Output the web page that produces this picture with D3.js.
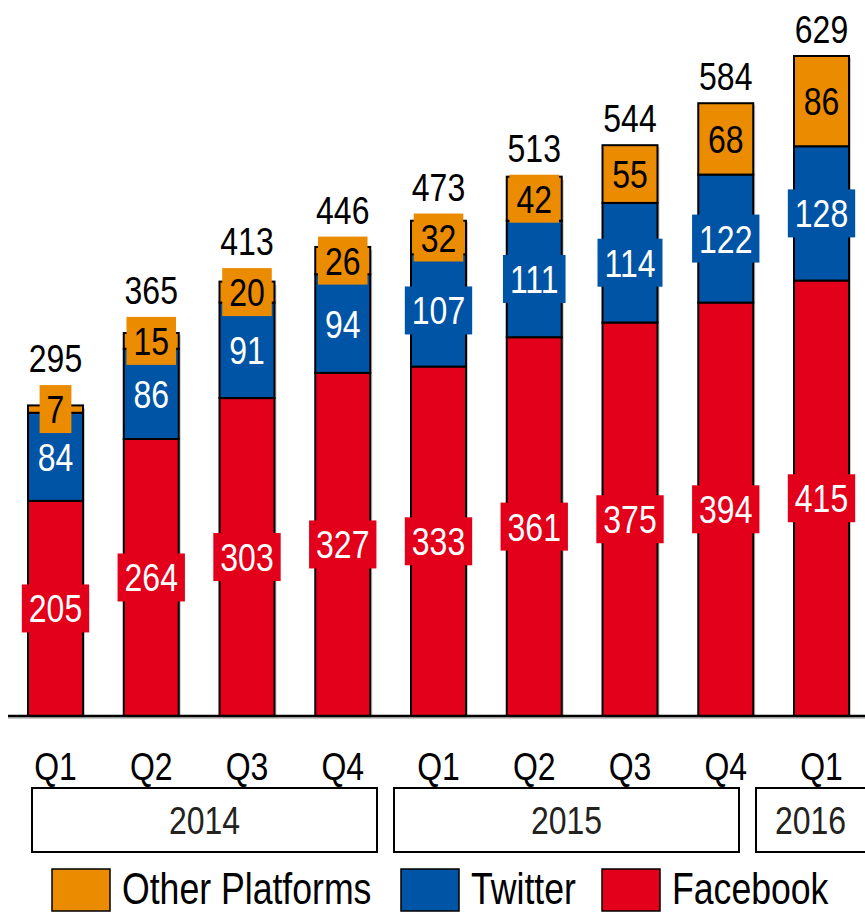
<!DOCTYPE html>
<html>
<head>
<meta charset="utf-8">
<script src="https://cdn.jsdelivr.net/npm/d3@7.9.0/dist/d3.min.js"></script>
<style>
  html, body { margin: 0; padding: 0; background: #fff; }
  svg { display: block; font-family: "Liberation Sans", Arial, sans-serif; }
</style>
</head>
<body>
<div id="chart"></div>
<script>
const quarters = ["Q1", "Q2", "Q3", "Q4", "Q1", "Q2", "Q3", "Q4", "Q1"];
const years = ["2014", "2015", "2016"];
const facebook = [205, 264, 303, 327, 333, 361, 375, 394, 415];
const twitter = [84, 86, 91, 94, 107, 111, 114, 122, 128];
const other = [7, 15, 20, 26, 32, 42, 55, 68, 86];
const totals = [295, 365, 413, 446, 473, 513, 544, 584, 629];

const seriesNames = ["Facebook", "Twitter", "Other Platforms"];
const colors = { "Facebook": "#e2001a", "Twitter": "#0054a5", "Other Platforms": "#eb8b00" };
const labelColors = { "Facebook": "#fff", "Twitter": "#fff", "Other Platforms": "#000" };

const width = 865;
const height = 913;
const baseline = 716;
// the reference uses a condensed face, so squeeze Liberation Sans horizontally
const narrow = 0.82;

const svg = d3.select("#chart")
  .append("svg")
  .attr("width", width)
  .attr("height", height);

const idx = d3.range(quarters.length);

const xScale = d3.scaleBand()
  .domain(idx)
  .range([28, 849])
  .paddingInner(0.4256)
  .paddingOuter(0);

const yScale = d3.scaleLinear()
  .domain([0, 629])
  .range([baseline, 56]);

const table = idx.map(i => ({
  i: i,
  "Facebook": facebook[i],
  "Twitter": twitter[i],
  "Other Platforms": other[i],
  total: totals[i]
}));

const stacked = d3.stack().keys(seriesNames)(table);

const at = (x, y, s = narrow) => `translate(${x},${y}) scale(${s},1)`;

// soft shadow behind the bars
svg.append("g")
  .selectAll("rect")
  .data(table)
  .join("rect")
  .attr("x", d => xScale(d.i) + 2)
  .attr("y", d => yScale(d.total) + 2)
  .attr("width", xScale.bandwidth())
  .attr("height", d => baseline - yScale(d.total))
  .attr("fill", "#c8c8c8");

svg.append("line")
  .attr("x1", 8).attr("x2", width)
  .attr("y1", baseline + 2).attr("y2", baseline + 2)
  .attr("stroke", "#bbb").attr("stroke-width", 1.5);

const layers = svg.append("g")
  .selectAll("g")
  .data(stacked)
  .join("g")
  .attr("fill", d => colors[d.key]);

layers.selectAll("rect")
  .data(d => d)
  .join("rect")
  .attr("x", d => xScale(d.data.i))
  .attr("y", d => yScale(d[1]))
  .attr("width", xScale.bandwidth())
  .attr("height", d => yScale(d[0]) - yScale(d[1]))
  .attr("stroke", "#000")
  .attr("stroke-width", 2);

svg.append("line")
  .attr("x1", 8).attr("x2", width)
  .attr("y1", baseline).attr("y2", baseline)
  .attr("stroke", "#000").attr("stroke-width", 2.5);

// segment labels with colored boxes
const fontSize = 39;
const boxH = 48;
const labels = [];
stacked.forEach(layer => {
  layer.forEach(d => {
    labels.push({
      key: layer.key,
      i: d.data.i,
      value: d.data[layer.key],
      cy: (yScale(d[0]) + yScale(d[1])) / 2
    });
  });
});

const labelG = svg.append("g")
  .selectAll("g")
  .data(labels)
  .join("g")
  .attr("transform", d => `translate(${xScale(d.i) + xScale.bandwidth() / 2},${d.cy})`);

labelG.append("text")
  .attr("text-anchor", "middle")
  .attr("transform", at(0, 14))
  .attr("font-size", fontSize)
  .attr("fill", d => labelColors[d.key])
  .text(d => d.value);

labelG.each(function (d) {
  const g = d3.select(this);
  const w = g.select("text").node().getComputedTextLength() * narrow + 14;
  d.boxTop = d.cy - boxH / 2;
  g.insert("rect", "text")
    .attr("x", -w / 2)
    .attr("y", -boxH / 2)
    .attr("width", w)
    .attr("height", boxH)
    .attr("fill", colors[d.key]);
});

// totals above bars
svg.append("g")
  .selectAll("text")
  .data(table)
  .join("text")
  .attr("transform", d => {
    const topLabel = labels.find(l => l.i === d.i && l.key === "Other Platforms");
    const y = Math.min(yScale(d.total), topLabel.boxTop) - 13;
    return at(xScale(d.i) + xScale.bandwidth() / 2, y);
  })
  .attr("text-anchor", "middle")
  .attr("font-size", fontSize)
  .attr("fill", "#000")
  .text(d => d.total);

// quarter labels
svg.append("g")
  .selectAll("text")
  .data(idx)
  .join("text")
  .attr("transform", i => at(xScale(i) + xScale.bandwidth() / 2, 780))
  .attr("text-anchor", "middle")
  .attr("font-size", fontSize)
  .attr("fill", "#000")
  .text(i => quarters[i]);

// year boxes
const yearScale = d3.scaleBand()
  .domain(years)
  .range([32, 1101])
  .paddingInner(17 / 362)
  .paddingOuter(0);

const yearG = svg.append("g")
  .selectAll("g")
  .data(years)
  .join("g");

yearG.append("rect")
  .attr("x", d => yearScale(d))
  .attr("y", 788)
  .attr("width", yearScale.bandwidth())
  .attr("height", 64)
  .attr("fill", "#fff")
  .attr("stroke", "#000")
  .attr("stroke-width", 2);

yearG.append("text")
  .attr("transform", d => {
    const cx = (Math.max(yearScale(d), 0) + Math.min(yearScale(d) + yearScale.bandwidth(), width)) / 2;
    return at(cx, 834);
  })
  .attr("text-anchor", "middle")
  .attr("font-size", fontSize)
  .attr("fill", "#23221c")
  .text(d => d);

// legend
const legendItems = ["Other Platforms", "Twitter", "Facebook"];
const legendX = [52, 401, 602];
const legend = svg.append("g")
  .selectAll("g")
  .data(legendItems)
  .join("g")
  .attr("transform", (d, i) => `translate(${legendX[i]},869)`);

legend.append("rect")
  .attr("width", 58)
  .attr("height", 42)
  .attr("fill", d => colors[d])
  .attr("stroke", "#000")
  .attr("stroke-width", 1.5);

legend.append("text")
  .attr("transform", at(70, 35, 0.81))
  .attr("font-size", 44)
  .attr("fill", "#000")
  .text(d => d);
</script>
</body>
</html>
